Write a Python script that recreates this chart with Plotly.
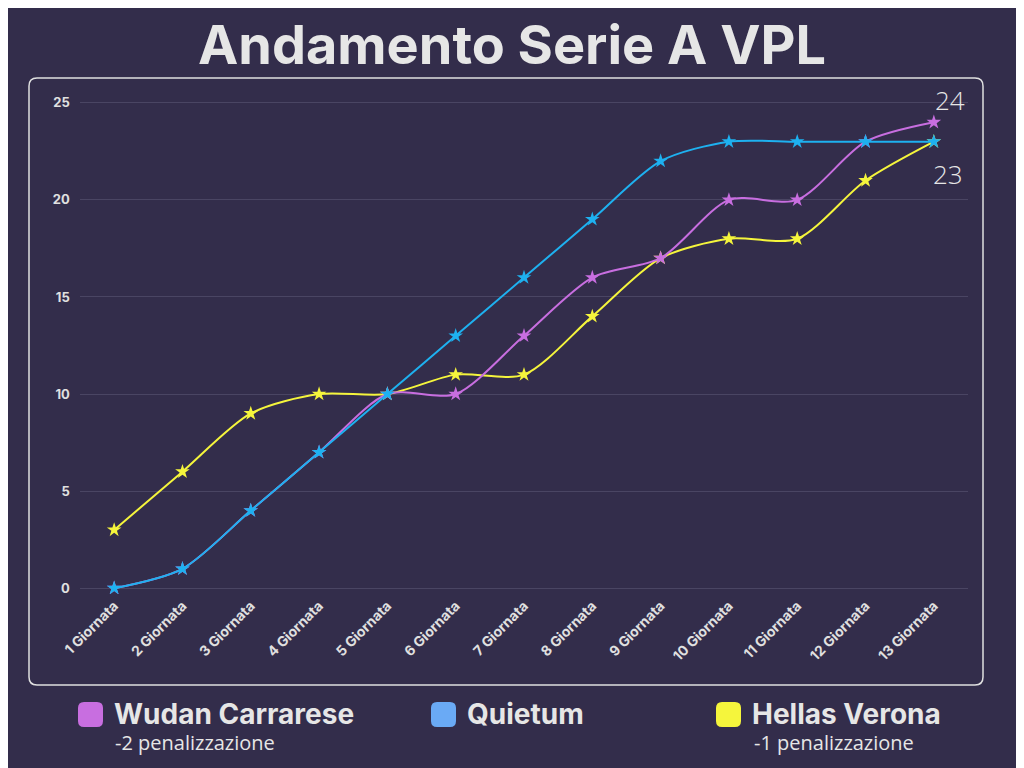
import plotly.graph_objects as go

giornate = [f"{i} Giornata" for i in range(1, 14)]
wudan = [0, 1, 4, 7, 10, 10, 13, 16, 17, 20, 20, 23, 24]
quietum = [0, 1, 4, 7, 10, 13, 16, 19, 22, 23, 23, 23, 23]
hellas = [3, 6, 9, 10, 10, 11, 11, 14, 17, 18, 18, 21, 23]

BG = "#332d4b"
OFF = 8  # page body margin
W, H = 1024 - OFF, 768 - OFF
L, R, T, B = 80, 968, 97, 594


def px(x):
    return (x - L) / (R - L)


def py(y):
    return (B - y) / (B - T)


def rounded(x0, y0, x1, y1, r):
    # rounded rectangle path in paper units, given page pixel coords
    pts = [
        f"M {px(x0 + r)} {py(y0)}", f"L {px(x1 - r)} {py(y0)}",
        f"Q {px(x1)} {py(y0)} {px(x1)} {py(y0 + r)}", f"L {px(x1)} {py(y1 - r)}",
        f"Q {px(x1)} {py(y1)} {px(x1 - r)} {py(y1)}", f"L {px(x0 + r)} {py(y1)}",
        f"Q {px(x0)} {py(y1)} {px(x0)} {py(y1 - r)}", f"L {px(x0)} {py(y0 + r)}",
        f"Q {px(x0)} {py(y0)} {px(x0 + r)} {py(y0)}", "Z",
    ]
    return " ".join(pts)


fig = go.Figure()
for name, vals, col in [("Hellas Verona", hellas, "#f5f53c"),
                        ("Wudan Carrarese", wudan, "#c86ee0"),
                        ("Quietum", quietum, "#1eb1f0")]:
    fig.add_trace(go.Scatter(
        x=giornate, y=vals, name=name, mode="lines+markers",
        line=dict(color=col, width=2, shape="spline", smoothing=0.8),
        marker=dict(symbol="star", size=11, color=col),
    ))

shapes = [dict(type="path", xref="paper", yref="paper",
               path=rounded(29, 78, 983, 685, 8),
               line=dict(color="#e0e0e0", width=1.5))]
annotations = [
    dict(text="<b>Andamento Serie A VPL</b>", x=px(512), xref="paper", y=py(45), yref="paper",
         xanchor="center", yanchor="middle", showarrow=False,
         font=dict(size=54, color="#e6e6e6", family="Inter")),
    dict(text="24", x=12, y=24, xref="x", yref="y", showarrow=False, xshift=16, yshift=22,
         font=dict(size=26, color="#e6e6e6", family="Open Sans", weight=300)),
    dict(text="23", x=12, y=23, xref="x", yref="y", showarrow=False, xshift=14, yshift=-32,
         font=dict(size=26, color="#e6e6e6", family="Open Sans", weight=300)),
]
legend_items = [("Wudan Carrarese", "#c86ee0", 78, "-2 penalizzazione", 113),
                ("Quietum", "#6aaaf5", 431, None, 0),
                ("Hellas Verona", "#f5f53c", 716, "-1 penalizzazione", 752)]
for label, col, x0, sub, sx in legend_items:
    shapes.append(dict(type="path", xref="paper", yref="paper",
                       path=rounded(x0, 702, x0 + 25, 727, 6), fillcolor=col, line=dict(width=0)))
    annotations.append(dict(text=f"<b>{label}</b>", x=px(x0 + 34), y=py(714), xref="paper", yref="paper",
                            xanchor="left", yanchor="middle", showarrow=False,
                            font=dict(size=28, color="#e6e6e6", family="Inter")))
    if sub:
        annotations.append(dict(text=sub, x=px(sx), y=py(742), xref="paper", yref="paper",
                                xanchor="left", yanchor="middle", showarrow=False,
                                font=dict(size=20, color="#e6e6e6", family="Open Sans")))

fig.update_layout(
    width=W, height=H, autosize=False,
    paper_bgcolor=BG, plot_bgcolor=BG, showlegend=False,
    margin=dict(l=L - OFF, r=1024 - R, t=T - OFF, b=768 - B),
    shapes=shapes, annotations=annotations,
    font=dict(family="Inter", color="#e0e0e0"),
)
fig.update_xaxes(tickangle=-45, showgrid=False, zeroline=False, range=[-0.5, 12.5],
                 tickfont=dict(size=14, color="#e0e0e0", family="Inter", weight="bold"))
fig.update_yaxes(range=[-0.3, 25.3], dtick=5, gridcolor="#4a4563", zeroline=False,
                 tickfont=dict(size=13, color="#e0e0e0", family="Inter", weight="bold"),
                 ticksuffix="   ")
fig.write_html("out.html")
